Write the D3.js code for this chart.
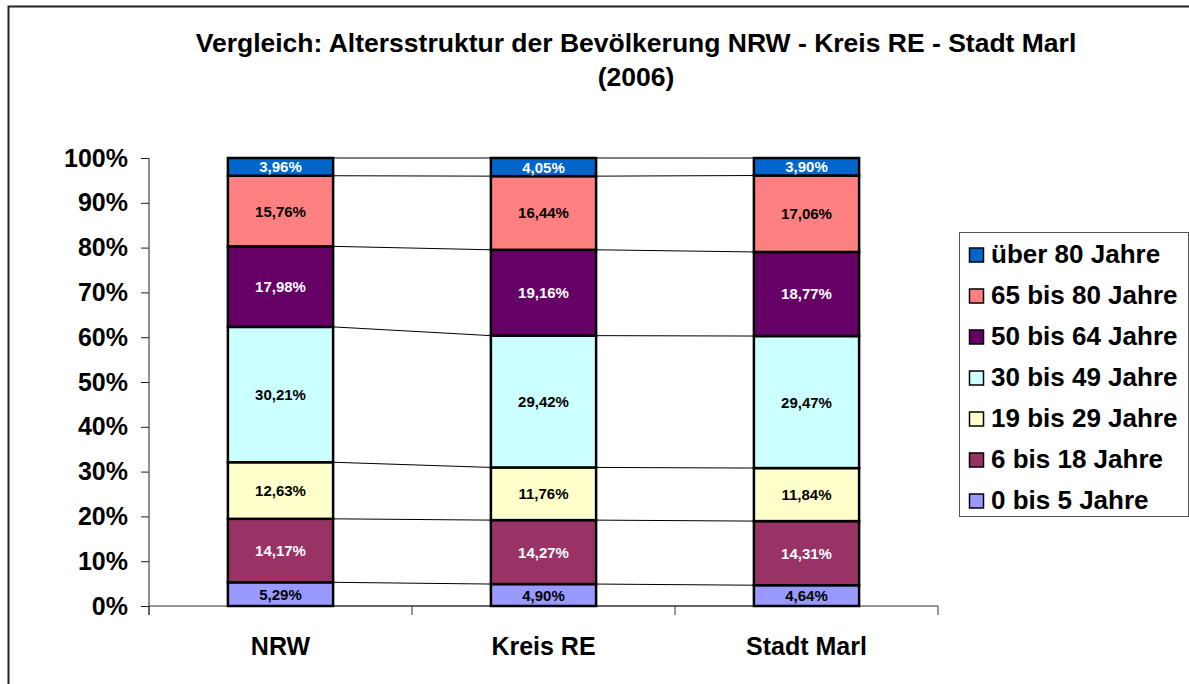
<!DOCTYPE html>
<html>
<head>
<meta charset="utf-8">
<script src="https://cdn.jsdelivr.net/npm/d3@7"></script>
<style>
  body { margin: 0; background: #fff; }
  text { font-family: "Liberation Sans", Arial, sans-serif; font-weight: bold; }
</style>
</head>
<body>
<svg width="1189" height="684"></svg>
<script>
// the svg
var svg = d3.select("svg"),
  width = +svg.attr("width"),
  height = +svg.attr("height");

// Data (bottom to top)
var categories = ["NRW", "Kreis RE", "Stadt Marl"];
var groups = ["0 bis 5 Jahre", "6 bis 18 Jahre", "19 bis 29 Jahre", "30 bis 49 Jahre",
  "50 bis 64 Jahre", "65 bis 80 Jahre", "über 80 Jahre"];
var nrw = [5.29, 14.17, 12.63, 30.21, 17.98, 15.76, 3.96];
var kreisRE = [4.90, 14.27, 11.76, 29.42, 19.16, 16.44, 4.05];
var stadtMarl = [4.64, 14.31, 11.84, 29.47, 18.77, 17.06, 3.90];
var yTicks = [0, 10, 20, 30, 40, 50, 60, 70, 80, 90, 100];

var colors = ["#9999FF", "#993366", "#FFFFCC", "#CCFFFF", "#660066", "#FF8080", "#0066CC"];
var labelColors = ["#000", "#fff", "#000", "#000", "#fff", "#000", "#fff"];

var rows = categories.map(function(c, i) {
  var vals = [nrw, kreisRE, stadtMarl][i];
  var r = { cat: c };
  groups.forEach(function(g, j) { r[g] = vals[j]; });
  return r;
});

var stack = d3.stack().keys(groups);
var series = stack(rows);

// scales
var x = d3.scaleBand()
  .domain(categories)
  .range([149, 938])
  .paddingInner(0.6)
  .paddingOuter(0.3);

var y = d3.scaleLinear()
  .domain([0, 100])
  .range([606, 158]);

// outer frame
svg.append("rect")
  .attr("x", 8.5).attr("y", 6.5)
  .attr("width", 1200).attr("height", 700)
  .attr("fill", "none")
  .attr("stroke", "#222")
  .attr("stroke-width", 2);

// title
svg.append("text")
  .attr("x", 636).attr("y", 52)
  .attr("text-anchor", "middle")
  .attr("font-size", 26.5)
  .text("Vergleich: Altersstruktur der Bevölkerung NRW - Kreis RE - Stadt Marl");
svg.append("text")
  .attr("x", 636).attr("y", 86)
  .attr("text-anchor", "middle")
  .attr("font-size", 26.5)
  .text("(2006)");

// y axis
var yAxis = svg.append("g")
  .attr("transform", "translate(149,0)")
  .call(d3.axisLeft(y)
    .tickValues(yTicks)
    .tickSize(8)
    .tickPadding(13)
    .tickFormat(function(d) { return d + "%"; }));
yAxis.select(".domain").attr("d", "M0,158V615").attr("stroke", "#222");
yAxis.selectAll(".tick line").attr("stroke", "#222");
yAxis.selectAll("text").attr("font-size", 25).attr("fill", "#000");

// x axis
var xAxisG = svg.append("g").attr("transform", "translate(0,606)");
xAxisG.append("line")
  .attr("x1", 149).attr("x2", 938)
  .attr("stroke", "#333");
var xBounds = [149, 149 + x.step(), 149 + 2 * x.step(), 938];
xAxisG.selectAll(".xt")
  .data(xBounds)
  .enter().append("line")
  .attr("x1", function(d) { return d; })
  .attr("x2", function(d) { return d; })
  .attr("y1", 0).attr("y2", 9)
  .attr("stroke", "#333");
xAxisG.selectAll(".xl")
  .data(categories)
  .enter().append("text")
  .attr("x", function(d) { return x(d) + x.bandwidth() / 2; })
  .attr("y", 49)
  .attr("text-anchor", "middle")
  .attr("font-size", 25)
  .text(function(d) { return d; });

// series lines between bars
series.forEach(function(s) {
  for (var i = 0; i < categories.length - 1; i++) {
    svg.append("line")
      .attr("x1", x(categories[i]) + x.bandwidth())
      .attr("x2", x(categories[i + 1]))
      .attr("y1", y(s[i][1]))
      .attr("y2", y(s[i + 1][1]))
      .attr("stroke", "#000")
      .attr("stroke-width", 1);
  }
});
// bottom series line (0%)
for (var i = 0; i < categories.length - 1; i++) {
  svg.append("line")
    .attr("x1", x(categories[i]) + x.bandwidth())
    .attr("x2", x(categories[i + 1]))
    .attr("y1", y(0)).attr("y2", y(0))
    .attr("stroke", "#333");
}

// bars
var layer = svg.append("g")
  .selectAll("g")
  .data(series)
  .enter().append("g")
  .attr("fill", function(d, i) { return colors[i]; });

layer.selectAll("rect")
  .data(function(d) { return d; })
  .enter().append("rect")
  .attr("x", function(d) { return x(d.data.cat); })
  .attr("y", function(d) { return y(d[1]); })
  .attr("width", x.bandwidth())
  .attr("height", function(d) { return y(d[0]) - y(d[1]); })
  .attr("stroke", "#000")
  .attr("stroke-width", 2.5);

// labels
layer.each(function(s, i) {
  d3.select(this).selectAll("text")
    .data(s)
    .enter().append("text")
    .attr("x", function(d) { return x(d.data.cat) + x.bandwidth() / 2; })
    .attr("y", function(d) { return (y(d[0]) + y(d[1])) / 2 + 5.5; })
    .attr("text-anchor", "middle")
    .attr("font-size", 15)
    .attr("fill", labelColors[i])
    .text(function(d) { return (d[1] - d[0]).toFixed(2).replace(".", ",") + "%"; });
});

// legend
var legend = svg.append("g");
legend.append("rect")
  .attr("x", 959.5).attr("y", 232.5)
  .attr("width", 229).attr("height", 284)
  .attr("fill", "#fff")
  .attr("stroke", "#555");

var legendItems = groups.slice().reverse();
var legendColors = colors.slice().reverse();
var li = legend.selectAll(".li")
  .data(legendItems)
  .enter().append("g")
  .attr("transform", function(d, i) { return "translate(969," + (254.5 + i * 41) + ")"; });
li.append("rect")
  .attr("x", 0.5).attr("y", -6.5)
  .attr("width", 14).attr("height", 14)
  .attr("fill", function(d, i) { return legendColors[i]; })
  .attr("stroke", "#000")
  .attr("stroke-width", 1.5);
li.append("text")
  .attr("x", 22).attr("y", 8.5)
  .attr("font-size", 26)
  .text(function(d) { return d; });
</script>
</body>
</html>
